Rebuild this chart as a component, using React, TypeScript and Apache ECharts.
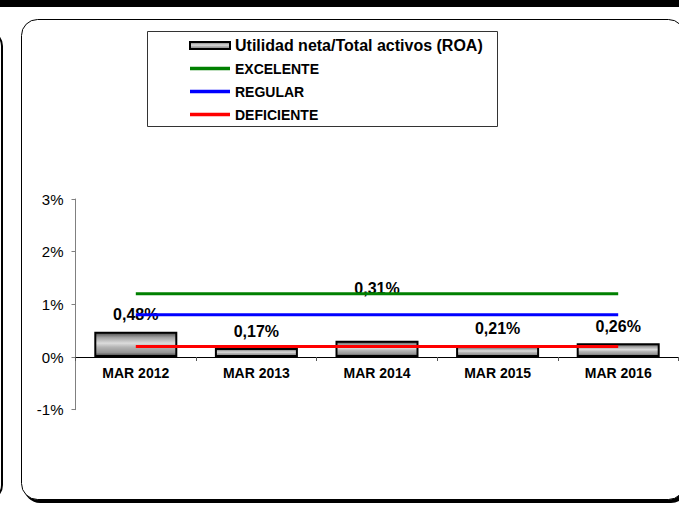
import React, { useEffect, useRef } from "react";
import * as echarts from "echarts";

const categories = ["MAR 2012", "MAR 2013", "MAR 2014", "MAR 2015", "MAR 2016"];
const roaValues = [0.48, 0.17, 0.31, 0.21, 0.26];
const excelente = [1.2, 1.2, 1.2, 1.2, 1.2];
const regular = [0.8, 0.8, 0.8, 0.8, 0.8];
const deficiente = [0.2, 0.2, 0.2, 0.2, 0.2];
const yTicks = { min: -1, max: 3, interval: 1 };

const ROA_NAME = "Utilidad neta/Total activos (ROA)";
const FONT = "'Liberation Sans', Arial, sans-serif";
const LINE_ICON = "path://M0,0 L40,0 L40,3.5 L0,3.5 Z";

export default function App() {
  const ref = useRef<HTMLDivElement>(null);

  useEffect(() => {
    if (!ref.current) return;
    const chart = echarts.init(ref.current, undefined, { renderer: "svg" });

    const barFill = {
      type: "linear",
      x: 0,
      y: 0,
      x2: 0,
      y2: 1,
      colorStops: [
        { offset: 0, color: "#4a4a4a" },
        { offset: 0.2, color: "#a0a0a0" },
        { offset: 0.45, color: "#dcdcdc" },
        { offset: 0.62, color: "#b4b4b4" },
        { offset: 0.85, color: "#949494" },
        { offset: 1, color: "#464646" },
      ],
    };

    const barData = roaValues.map((v, i) =>
      i === 2 ? { value: v, label: { offset: [0, -35] } } : { value: v }
    );

    chart.setOption({
      animation: false,
      textStyle: { fontFamily: FONT },
      graphic: [
        { type: "rect", z: -5, shape: { x: 0, y: 0, width: 679, height: 7 }, style: { fill: "#000" } },
        {
          type: "rect",
          z: -5,
          shape: { x: -40, y: 31, width: 42, height: 469, r: 15 },
          style: { fill: "#fff", stroke: "#000", lineWidth: 2 },
        },
        {
          type: "rect",
          z: -5,
          shape: { x: 24, y: 22, width: 663, height: 481, r: 16 },
          style: { fill: "#000" },
        },
        {
          type: "rect",
          z: -4,
          shape: { x: 21.5, y: 19.5, width: 663, height: 480, r: 16 },
          style: { fill: "#fff", stroke: "#000", lineWidth: 1 },
        },
        {
          type: "rect",
          z: -3,
          shape: { x: 147.5, y: 31.5, width: 350, height: 95 },
          style: { fill: "#fff", stroke: "#333", lineWidth: 1 },
        },
      ],
      legend: {
        orient: "vertical",
        left: 189,
        top: 37.5,
        padding: 0,
        itemWidth: 40,
        itemHeight: 10,
        itemGap: 7,
        selectedMode: false,
        textStyle: { fontFamily: FONT, fontWeight: "bold", fontSize: 14, color: "#000", lineHeight: 16 },
        data: [
          { name: ROA_NAME, icon: "path://M0,0 L40,0 L40,7 L0,7 Z", textStyle: { fontSize: 16, lineHeight: 16 } },
          { name: "EXCELENTE", icon: LINE_ICON },
          { name: "REGULAR", icon: LINE_ICON },
          { name: "DEFICIENTE", icon: LINE_ICON },
        ],
      },
      grid: { left: 75.5, top: 199, width: 603, height: 210.67, containLabel: false },
      xAxis: {
        type: "category",
        data: categories,
        axisLine: { show: true, onZero: true, lineStyle: { color: "#000", width: 1 } },
        axisTick: { show: true, interval: 0, length: 4, lineStyle: { color: "#555" } },
        axisLabel: { interval: 0, margin: -43.5, color: "#000", fontWeight: "bold", fontSize: 14, fontFamily: FONT },
        splitLine: { show: false },
      },
      yAxis: {
        type: "value",
        min: yTicks.min,
        max: yTicks.max,
        interval: yTicks.interval,
        axisLine: { show: true, lineStyle: { color: "#808080", width: 1 } },
        axisTick: { show: true, length: 4, lineStyle: { color: "#808080" } },
        axisLabel: { formatter: "{value}%", color: "#000", fontSize: 15, margin: 12, fontFamily: FONT },
        splitLine: { show: false },
      },
      series: [
        {
          name: ROA_NAME,
          type: "bar",
          data: barData,
          barWidth: 83,
          itemStyle: { color: barFill, borderColor: "#000", borderWidth: 2 },
          label: {
            show: true,
            position: "top",
            distance: 9,
            color: "#000",
            fontWeight: "bold",
            fontSize: 16,
            fontFamily: FONT,
            formatter: (p: any) => Number(p.value).toFixed(2).replace(".", ",") + "%",
          },
        },
        {
          name: "EXCELENTE",
          type: "line",
          data: excelente,
          symbol: "none",
          lineStyle: { color: "#008000", width: 3 },
          itemStyle: { color: "#008000" },
        },
        {
          name: "REGULAR",
          type: "line",
          data: regular,
          symbol: "none",
          lineStyle: { color: "#0000ff", width: 3 },
          itemStyle: { color: "#0000ff" },
        },
        {
          name: "DEFICIENTE",
          type: "line",
          data: deficiente,
          symbol: "none",
          lineStyle: { color: "#ff0000", width: 3 },
          itemStyle: { color: "#ff0000" },
        },
      ],
    });

    return () => chart.dispose();
  }, []);

  return (
    <div
      ref={ref}
      style={{ position: "fixed", left: 0, top: 0, width: 679, height: 505, background: "#fff" }}
    />
  );
}
